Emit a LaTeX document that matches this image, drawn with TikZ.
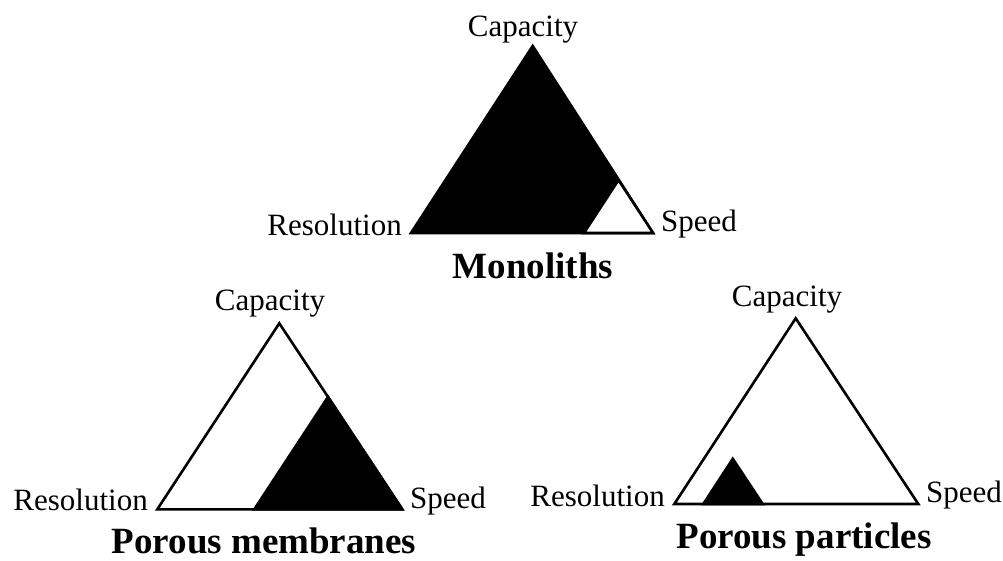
\documentclass[tikz,border=0pt]{standalone}
\usepackage{fontspec}
\setmainfont{Liberation Serif}
\begin{document}
\begin{tikzpicture}[x=1pt,y=-1pt,
  lbl/.style={inner sep=0pt,font=\fontsize{31}{31}\selectfont},
  ttl/.style={inner sep=0pt,anchor=base,font=\fontsize{37}{37}\selectfont\bfseries},
  tri/.style={draw=black,line width=2.6pt,line join=miter},
  blk/.style={tri,fill=black},
  wht/.style={tri,fill=white}]
\useasboundingbox (0,0) rectangle (1003,561);
% ---------- Monoliths (top) ----------
\coordinate (mL) at (411,233);
\coordinate (mR) at (653,233);
\coordinate (mT) at (532.7,46);
\coordinate (miL) at (584,233);
\coordinate (miT) at (618.5,180);
\draw[blk] (mL) -- (mR) -- (mT) -- cycle;
\draw[wht] (miL) -- (mR) -- (miT) -- cycle;
\node[lbl,anchor=base] (mcap) at (523,36.7) {Capacity};
\node[lbl,anchor=base east] (mres) at (402,235.5) {Resolution};
\node[lbl,anchor=base west] (mspd) at (661,232) {Speed};
\node[ttl] (mtit) at (533,278) {Monoliths};
% ---------- Porous membranes (bottom left) ----------
\coordinate (pL) at (157.3,509.3);
\coordinate (pR) at (402.3,509.3);
\coordinate (pT) at (279.3,323.3);
\coordinate (piL) at (254.3,509.3);
\coordinate (piT) at (328,397);
\draw[wht] (pL) -- (pR) -- (pT) -- cycle;
\draw[blk] (piL) -- (pR) -- (piT) -- cycle;
\node[lbl,anchor=base] (pcap) at (270,310) {Capacity};
\node[lbl,anchor=base east] (pres) at (148,510) {Resolution};
\node[lbl,anchor=base west] (pspd) at (410,508) {Speed};
\node[ttl] (ptit) at (264,553) {Porous membranes};
% ---------- Porous particles (bottom right) ----------
\coordinate (qL) at (674.3,504);
\coordinate (qR) at (918.3,504);
\coordinate (qT) at (795.7,318.3);
\coordinate (qiL) at (703.3,504);
\coordinate (qiR) at (762.7,504);
\coordinate (qiT) at (732.8,458.8);
\draw[wht] (qL) -- (qR) -- (qT) -- cycle;
\draw[blk] (qiL) -- (qiR) -- (qiT) -- cycle;
\node[lbl,anchor=base] (qcap) at (787,306) {Capacity};
\node[lbl,anchor=base east] (qres) at (665,506) {Resolution};
\node[lbl,anchor=base west] (qspd) at (926,502) {Speed};
\node[ttl] (qtit) at (804,548) {Porous particles};
\end{tikzpicture}
\end{document}
